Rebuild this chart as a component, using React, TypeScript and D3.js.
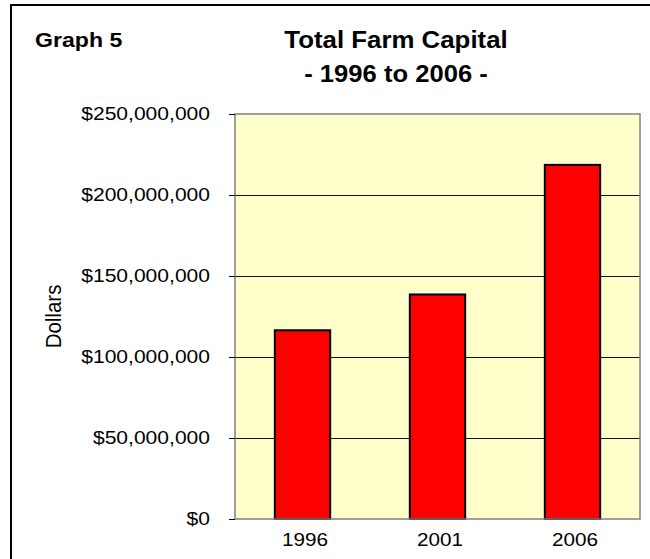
import React from "react";
import * as d3 from "d3";

const years = ["1996", "2001", "2006"];
const capital = [116500000, 138600000, 218600000];
const yTicks = [0, 50000000, 100000000, 150000000, 200000000, 250000000];

const W = 650;
const H = 559;
const plot = { left: 235, top: 114, right: 640, bottom: 519 };

function SText(props: {
  x: number;
  y: number;
  sx?: number;
  size: number;
  bold?: boolean;
  anchor?: string;
  children: React.ReactNode;
}) {
  const { x, y, sx = 1, size, bold, anchor = "start", children } = props;
  return (
    <text
      transform={`translate(${x},${y}) scale(${sx},1)`}
      fontFamily="'Liberation Sans', Arial, sans-serif"
      fontSize={size}
      fontWeight={bold ? "bold" : "normal"}
      textAnchor={anchor}
      fill="#000"
    >
      {children}
    </text>
  );
}

export default function App() {
  const x = d3
    .scaleBand<string>()
    .domain(years)
    .range([plot.left, plot.right])
    .paddingInner(0.59)
    .paddingOuter(0.295);
  const y = d3.scaleLinear().domain([0, 250000000]).range([plot.bottom, plot.top]);
  const fmt = (v: number) => "$" + d3.format(",")(v);
  const crisp = (v: number) => Math.round(v) + 0.5;

  return (
    <svg
      width={W}
      height={H}
      style={{ position: "absolute", left: 0, top: 0, background: "#fff" }}
    >
      <rect x={0} y={0} width={W} height={H} fill="#fff" />
      {/* outer frame */}
      <rect x={11} y={5} width={W + 20} height={H + 20} fill="none" stroke="#000" strokeWidth={2} />

      {/* titles */}
      <SText x={35} y={47} size={21} sx={1.1} bold>
        Graph 5
      </SText>
      <SText x={396} y={48} size={23.5} sx={1.1} bold anchor="middle">
        Total Farm Capital
      </SText>
      <SText x={396} y={82} size={23.5} sx={1.09} bold anchor="middle">
        - 1996 to 2006 -
      </SText>

      {/* plot area */}
      <rect
        x={plot.left}
        y={plot.top}
        width={plot.right - plot.left}
        height={plot.bottom - plot.top}
        fill="#FFFFCC"
      />
      {yTicks.slice(1, -1).map((t) => (
        <line
          key={"g" + t}
          x1={plot.left}
          x2={plot.right}
          y1={crisp(y(t))}
          y2={crisp(y(t))}
          stroke="#111"
          strokeWidth={1}
        />
      ))}

      {/* bars */}
      {years.map((yr, i) => (
        <rect
          key={yr}
          x={x(yr)!}
          y={y(capital[i])}
          width={x.bandwidth()}
          height={plot.bottom - y(capital[i])}
          fill="#FF0000"
          stroke="#000"
          strokeWidth={2}
        />
      ))}

      {/* plot border */}
      <rect
        x={plot.left}
        y={plot.top}
        width={plot.right - plot.left}
        height={plot.bottom - plot.top}
        fill="none"
        stroke="#808080"
        strokeWidth={1.5}
      />

      {/* y ticks and labels */}
      {yTicks.map((t) => (
        <g key={"t" + t}>
          <line
            x1={plot.left - 6}
            x2={plot.left}
            y1={crisp(y(t))}
            y2={crisp(y(t))}
            stroke="#000"
            strokeWidth={1}
          />
          <SText x={210} y={y(t) + 6} size={18} sx={1.17} anchor="end">
            {fmt(t)}
          </SText>
        </g>
      ))}

      {/* x labels */}
      {years.map((yr) => (
        <SText key={"x" + yr} x={x(yr)! + x.bandwidth() / 2 + 2.5} y={546} size={18} sx={1.15} anchor="middle">
          {yr}
        </SText>
      ))}

      {/* y axis title */}
      <text
        transform={`translate(61,${(plot.top + plot.bottom) / 2}) rotate(-90) scale(1,1.1)`}
        fontFamily="'Liberation Sans', Arial, sans-serif"
        fontSize={20.5}
        textAnchor="middle"
        fill="#000"
      >
        Dollars
      </text>
    </svg>
  );
}
